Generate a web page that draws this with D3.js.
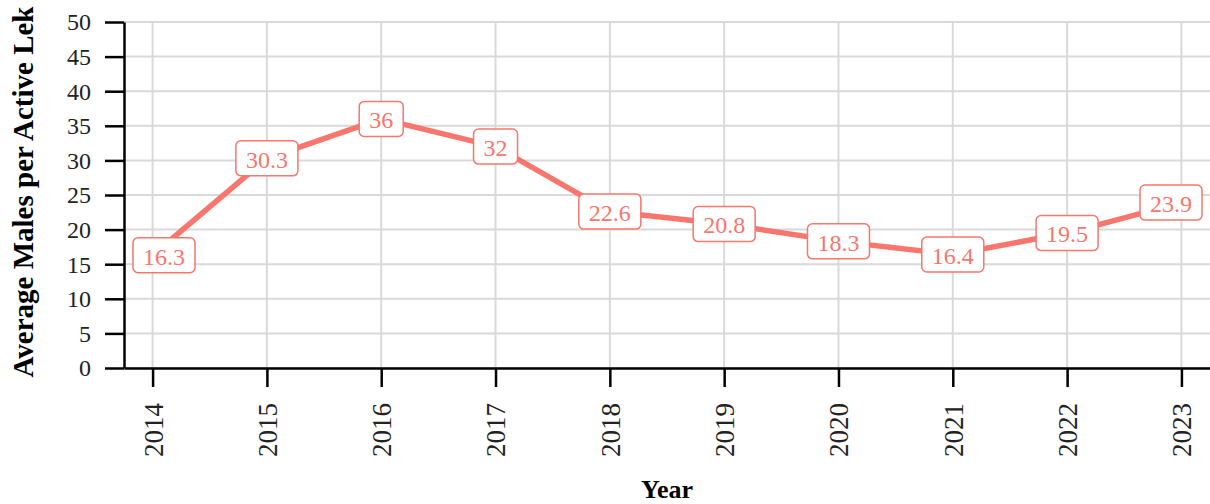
<!DOCTYPE html>
<html><head><meta charset="utf-8">
<script src="https://cdn.jsdelivr.net/npm/d3@7"></script>
<style>html,body{margin:0;padding:0;background:#fff;}svg{display:block;}
svg text{font-family:'Liberation Serif','Times New Roman',serif !important;}
.yax .tick text{font-size:24px !important;}
.xax .tick text{font-size:27px !important;}
</style>
</head><body>
<svg id="chart" width="1210" height="504"></svg>
<script>
const years = [2014, 2015, 2016, 2017, 2018, 2019, 2020, 2021, 2022, 2023];
const males = [16.3, 30.3, 36, 32, 22.6, 20.8, 18.3, 16.4, 19.5, 23.9];
const labels = ["16.3", "30.3", "36", "32", "22.6", "20.8", "18.3", "16.4", "19.5", "23.9"];
const yTicks = [0, 5, 10, 15, 20, 25, 30, 35, 40, 45, 50];

const svg = d3.select("#chart");
const pLeft = 124, pRight = 1210, pTop = 22, pBottom = 368;
const color = "#F8766D";
const font = "'Liberation Serif', 'Times New Roman', serif";

const x = d3.scaleLinear().domain([2013.75, 2023.25]).range([pLeft, pRight]);
const y = d3.scaleLinear().domain([0, 50]).range([pBottom, pTop]);

// grid
const g = svg.append("g");
g.selectAll("line.h").data(yTicks).join("line")
  .attr("x1", pLeft).attr("x2", pRight)
  .attr("y1", d => y(d)).attr("y2", d => y(d))
  .attr("stroke", "#d9d9d9").attr("stroke-width", 2);
g.selectAll("line.v").data(years).join("line")
  .attr("x1", d => x(d)).attr("x2", d => x(d))
  .attr("y1", pTop).attr("y2", pBottom)
  .attr("stroke", "#d9d9d9").attr("stroke-width", 2);

// axes
const yAxis = svg.append("g").attr("class", "yax").attr("transform", `translate(${pLeft},0)`)
  .call(d3.axisLeft(y).tickValues(yTicks).tickSize(19).tickPadding(14).tickSizeOuter(0));
const xAxis = svg.append("g").attr("class", "xax").attr("transform", `translate(0,${pBottom})`)
  .call(d3.axisBottom(x).tickValues(years).tickFormat(d3.format("d")).tickSize(19).tickSizeOuter(0));
[yAxis, xAxis].forEach(a => {
  a.attr("font-family", font).attr("font-size", null);
  a.select(".domain").attr("stroke", "#000").attr("stroke-width", 2.5);
  a.selectAll(".tick line").attr("stroke", "#000").attr("stroke-width", 2.5);
  a.selectAll(".tick text").attr("fill", "#222");
});
yAxis.selectAll(".tick text").attr("dy", "0.33em");
xAxis.selectAll(".tick text")
  .attr("text-anchor", "end")
  .attr("transform", "rotate(-90)")
  .attr("x", -35).attr("y", 0).attr("dy", "0.35em");

// line
svg.append("path")
  .datum(years.map((yr, i) => [yr, males[i]]))
  .attr("fill", "none").attr("stroke", color).attr("stroke-width", 5.5)
  .attr("stroke-linejoin", "round")
  .attr("d", d3.line().x(d => x(d[0])).y(d => y(d[1])));

// labels
const lg = svg.append("g");
years.forEach((yr, i) => {
  const t = lg.append("text").text(labels[i])
    .style("font-size", "24px").attr("fill", color)
    .attr("text-anchor", "middle").attr("dy", "0.35em");
  const w = t.node().getComputedTextLength() + 20;
  const h = 35;
  let cx = x(yr);
  cx = Math.max(pLeft + 9 + w / 2, Math.min(pRight - 8 - w / 2, cx));
  const cy = y(males[i]);
  lg.insert("rect", "text")
    .attr("x", cx - w / 2).attr("y", cy - h / 2).attr("width", w).attr("height", h)
    .attr("rx", 5).attr("fill", "#fff").attr("stroke", color).attr("stroke-width", 1.5);
  t.attr("x", cx).attr("y", cy + 1);
});
lg.selectAll("text").raise();

// titles
svg.append("text").text("Year")
  .attr("x", (pLeft + pRight) / 2).attr("y", 498)
  .attr("text-anchor", "middle")
  .attr("font-weight", "bold").style("font-size", "26px").attr("fill", "#000");
svg.append("text").text("Average Males per Active Lek")
  .attr("transform", `translate(33,192) rotate(-90)`)
  .attr("text-anchor", "middle")
  .attr("font-weight", "bold").style("font-size", "29px").attr("fill", "#000");
</script>
</body></html>
